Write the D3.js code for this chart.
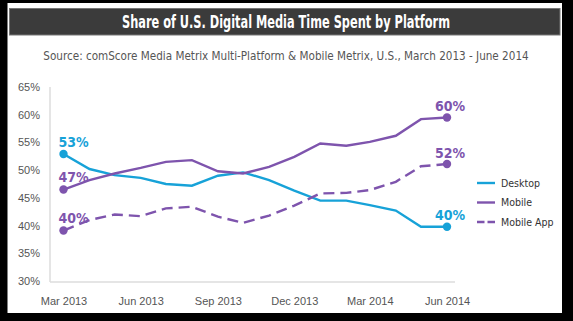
<!DOCTYPE html>
<html>
<head>
<meta charset="utf-8">
<script src="https://cdn.jsdelivr.net/npm/d3@7"></script>
<style>
    html, body { margin: 0; padding: 0; background: #000; }
    svg { display: block; font-family: "Liberation Sans Narrow", "DejaVu Sans Condensed", "Roboto", sans-serif; font-stretch: condensed; }
</style>
</head>
<body>
<div id="chart-area"></div>
<script>
// Monthly readings, Mar 2013 - Jun 2014
const months = ["2013-03", "2013-04", "2013-05", "2013-06", "2013-07", "2013-08", "2013-09", "2013-10",
    "2013-11", "2013-12", "2014-01", "2014-02", "2014-03", "2014-04", "2014-05", "2014-06"];
const desktop = [52.9, 50.2, 49.1, 48.6, 47.5, 47.2, 49.0, 49.6, 48.2, 46.3, 44.5, 44.5, 43.7, 42.7, 39.8, 39.8];
const mobile = [46.5, 48.2, 49.4, 50.4, 51.5, 51.8, 49.8, 49.4, 50.6, 52.4, 54.8, 54.4, 55.1, 56.2, 59.2, 59.5];
const mobileApp = [39.1, 41.0, 42.0, 41.7, 43.1, 43.4, 41.6, 40.5, 41.8, 43.6, 45.8, 45.9, 46.4, 47.9, 50.7, 51.1];

const seriesNames = ["Desktop", "Mobile", "Mobile App"];
const startLabels = ["53%", "47%", "40%"];
const endLabels = ["40%", "60%", "52%"];

const xTicks = ["2013-03", "2013-06", "2013-09", "2013-12", "2014-03", "2014-06"];
const yTicks = [30, 35, 40, 45, 50, 55, 60, 65];

const title = "Share of U.S. Digital Media Time Spent by Platform";
const subtitle = "Source: comScore Media Metrix Multi-Platform & Mobile Metrix, U.S., March 2013 - June 2014";

const blue = "#17a2d8";
const purple = "#7e54ad";

function drawChart() {
    const width = 573, height = 321;
    const parse = d3.timeParse("%Y-%m");
    const dates = months.map(parse);

    const svg = d3.select('#chart-area').append('svg')
        .attr('width', width)
        .attr('height', height);

    // frame
    svg.append('rect').attr('width', width).attr('height', height).attr('fill', '#000');
    svg.append('rect')
        .attr('x', 7.5).attr('y', 3)
        .attr('width', 554.5).attr('height', 310)
        .attr('fill', '#fff');

    // title bar
    svg.append('rect')
        .attr('x', 9.5).attr('y', 8.5)
        .attr('width', 550.5).attr('height', 26.5)
        .attr('fill', '#3b3b3b')
        .attr('stroke', '#777')
        .attr('stroke-width', 1);

    svg.append('text')
        .attr('x', 286).attr('y', 27.5)
        .attr('text-anchor', 'middle')
        .attr('fill', '#fff')
        .attr('font-size', 17)
        .attr('font-weight', 'bold')
        .attr('textLength', 328)
        .attr('lengthAdjust', 'spacingAndGlyphs')
        .text(title);

    svg.append('text')
        .attr('x', 286).attr('y', 59.5)
        .attr('text-anchor', 'middle')
        .attr('fill', '#555')
        .attr('font-size', 11.6)
        .text(subtitle);

    const xScale = d3.scaleTime().domain(d3.extent(dates)).range([63.5, 447]);
    const yScale = d3.scaleLinear().domain([30, 65]).range([281, 87]);

    // axes
    const yAxis = svg.append('g')
        .attr('transform', 'translate(50,0)')
        .call(d3.axisLeft(yScale).tickValues(yTicks).tickSize(0).tickPadding(10).tickFormat(d => d + "%"));
    yAxis.select('.domain').remove();
    yAxis.selectAll('text')
        .attr('font-size', 11)
        .attr('font-family', null)
        .attr('fill', '#555');

    svg.append('line')
        .attr('x1', 50).attr('x2', 50)
        .attr('y1', 87).attr('y2', 282)
        .attr('stroke', '#ddd').attr('stroke-width', 1.5);
    svg.append('line')
        .attr('x1', 50).attr('x2', 455)
        .attr('y1', 282).attr('y2', 282)
        .attr('stroke', '#ddd').attr('stroke-width', 1.5);

    const xAxis = svg.append('g')
        .attr('transform', 'translate(0,293)')
        .call(d3.axisBottom(xScale).tickValues(xTicks.map(parse)).tickSize(0).tickPadding(4).tickFormat(d3.timeFormat("%b %Y")));
    xAxis.select('.domain').remove();
    xAxis.selectAll('text')
        .attr('font-size', 11)
        .attr('font-family', null)
        .attr('fill', '#555');

    // lines
    const series = [
        { name: seriesNames[0], values: desktop, color: blue, dash: null },
        { name: seriesNames[1], values: mobile, color: purple, dash: null },
        { name: seriesNames[2], values: mobileApp, color: purple, dash: "11,6" }
    ];

    const line = d3.line()
        .x((d, i) => xScale(dates[i]))
        .y(d => yScale(d));

    series.forEach((s, k) => {
        svg.append('path')
            .datum(s.values)
            .attr('fill', 'none')
            .attr('stroke', s.color)
            .attr('stroke-width', 2.4)
            .attr('stroke-dasharray', s.dash)
            .attr('d', line);

        const ends = [0, s.values.length - 1];
        svg.selectAll('.dot-' + k)
            .data(ends)
            .enter().append('circle')
            .attr('cx', i => xScale(dates[i]))
            .attr('cy', i => yScale(s.values[i]))
            .attr('r', 4.2)
            .attr('fill', s.color);

        svg.append('text')
            .attr('x', xScale(dates[0]) - 5)
            .attr('y', yScale(s.values[0]) - 7.5)
            .attr('fill', s.color)
            .attr('font-size', 14)
            .attr('font-weight', 'bold')
            .text(startLabels[k]);

        const last = s.values.length - 1;
        svg.append('text')
            .attr('x', xScale(dates[last]) + 3)
            .attr('y', yScale(s.values[last]) - 6.5)
            .attr('text-anchor', 'middle')
            .attr('fill', s.color)
            .attr('font-size', 14)
            .attr('font-weight', 'bold')
            .text(endLabels[k]);
    });

    // legend
    const legend = svg.append('g').attr('transform', 'translate(477,183)');
    series.forEach((s, k) => {
        const row = legend.append('g').attr('transform', `translate(0,${k * 19.5})`);
        row.append('line')
            .attr('x1', 0).attr('x2', 18)
            .attr('stroke', s.color)
            .attr('stroke-width', 2.4)
            .attr('stroke-dasharray', s.dash ? "7.5,3" : null);
        row.append('text')
            .attr('x', 24)
            .attr('dy', '.35em')
            .attr('fill', '#333')
            .attr('font-size', 10.5)
            .text(s.name);
    });
}

drawChart();
</script>
</body>
</html>
